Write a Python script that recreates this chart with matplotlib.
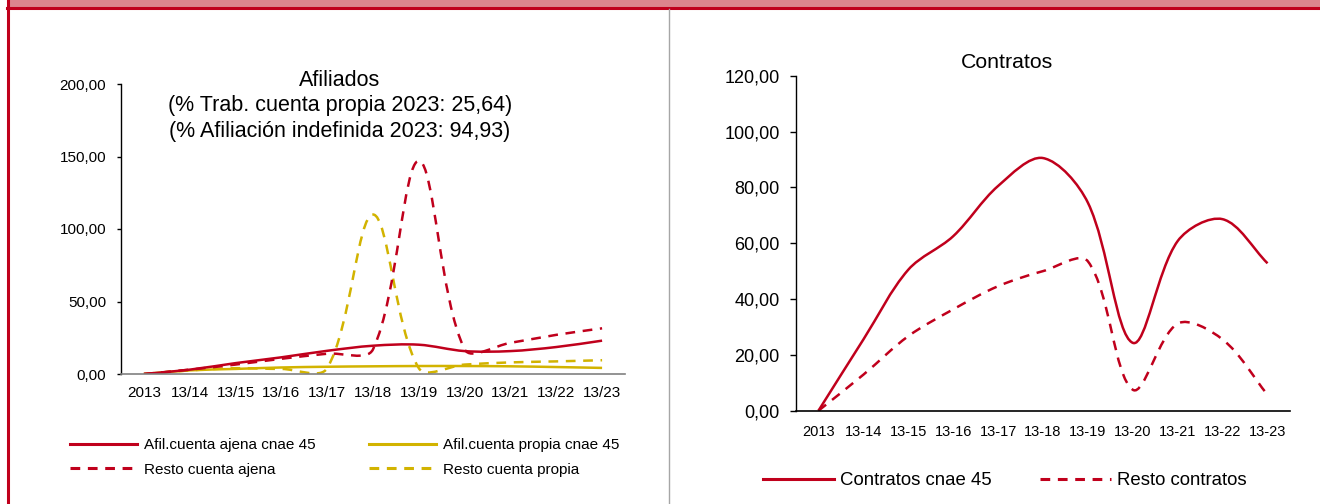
import matplotlib
matplotlib.use("Agg")
import matplotlib.pyplot as plt
import numpy as np
from matplotlib import font_manager
from matplotlib.lines import Line2D
from matplotlib.patches import PathPatch, Rectangle
from matplotlib.path import Path
from matplotlib.ticker import FixedLocator, FuncFormatter


# --- datos ------------------------------------------------------------
afil_cats = ["2013", "13/14", "13/15", "13/16", "13/17", "13/18",
             "13/19", "13/20", "13/21", "13/22", "13/23"]
afil_ajena_45 = [0, 3, 7.5, 11.5, 16, 19.5, 20.2, 15.8, 15.8, 18.6, 23]
afil_propia_45 = [0, 2.5, 3.5, 4.5, 5, 5.3, 5.5, 5.5, 5.3, 4.8, 4.2]
resto_ajena = [0, 3, 6.5, 10.5, 14, 17, 147, 17, 21.5, 27, 31.5]
resto_propia = [0, 2.5, 4, 3.5, 4, 110, 4, 6.5, 8, 8.7, 9.5]

contr_cats = ["2013", "13-14", "13-15", "13-16", "13-17", "13-18",
              "13-19", "13-20", "13-21", "13-22", "13-23"]
contratos_45 = [0, 25.5, 50.5, 62.5, 80.5, 90.5, 74.5, 24.3, 60.8, 68.6, 52.8]
resto_contratos = [0, 12.9, 26.7, 36.3, 44.6, 50, 53.5, 7.5, 31.2, 25.5, 5.7]

afil_title = ("Afiliados\n(% Trab. cuenta propia 2023: 25,64)\n"
              "(% Afiliación indefinida 2023: 94,93)")
contr_title = "Contratos"

RED = "#C0001C"
YELLOW = "#D2B300"
BAND = "#DC858D"

plt.rcParams["font.family"] = ["Liberation Sans", "DejaVu Sans"]
plt.rcParams["lines.scale_dashes"] = False

_names = {f.name for f in font_manager.fontManager.ttflist}
if "Liberation Sans Narrow" in _names:
    NARROW, NARROW_SIZE = ["Liberation Sans Narrow", "Liberation Sans"], 12
else:
    NARROW, NARROW_SIZE = ["Liberation Sans", "DejaVu Sans"], 10.5

DASH = (0, (7, 5.5))
LW = 1.8
W, H = 1320, 504


def comma_fmt(v, _pos):
    return f"{v:.2f}".replace(".", ",")


def smooth_path(ax, ys):
    """Línea suavizada tipo Excel: Bezier cúbicas con brazos ponderados
    por la longitud de los tramos (medida en píxeles)."""
    x0, x1 = ax.get_xlim()
    y0, y1 = ax.get_ylim()
    sx = ax.bbox.width / (x1 - x0)
    sy = ax.bbox.height / (y1 - y0)
    pts = np.column_stack([np.arange(len(ys)) * sx, np.asarray(ys, float) * sy])
    n = len(pts)
    verts = [pts[0]]
    codes = [Path.MOVETO]
    for i in range(n - 1):
        p0, p1 = pts[max(i - 1, 0)], pts[i]
        p2, p3 = pts[i + 1], pts[min(i + 2, n - 1)]
        d01 = np.linalg.norm(p1 - p0)
        d12 = np.linalg.norm(p2 - p1)
        d23 = np.linalg.norm(p3 - p2)
        c1 = p1 + (p2 - p0) * (d12 / (d01 + d12)) / 3
        c2 = p2 - (p3 - p1) * (d12 / (d12 + d23)) / 3
        verts += [c1, c2, p2]
        codes += [Path.CURVE4] * 3
    verts = np.array(verts) / [sx, sy]
    return Path(verts, codes)


def draw_series(ax, ys, color, ls):
    ax.add_patch(PathPatch(smooth_path(ax, ys), fill=False, edgecolor=color,
                           linewidth=LW, linestyle=ls, capstyle="butt",
                           joinstyle="round"))


def setup_axes(ax, cats, ymax, ystep, ysize, tick_len, xfamily, xsize, xpad,
               bottom_color):
    ax.set_xlim(-0.5, len(cats) - 0.5)
    ax.set_ylim(0, ymax)
    ax.xaxis.set_major_locator(FixedLocator(range(len(cats))))
    ax.set_xticklabels(cats, family=xfamily, fontsize=xsize)
    ax.yaxis.set_major_locator(FixedLocator(np.arange(0, ymax + 0.1, ystep)))
    ax.yaxis.set_major_formatter(FuncFormatter(comma_fmt))
    ax.tick_params(axis="x", length=0, pad=xpad)
    ax.tick_params(axis="y", length=tick_len, width=1, direction="out",
                   pad=7.7, labelsize=ysize)
    for s in ("top", "right"):
        ax.spines[s].set_visible(False)
    ax.spines["left"].set_color("black")
    ax.spines["bottom"].set_color(bottom_color)
    ax.spines["left"].set_linewidth(1)
    ax.spines["bottom"].set_linewidth(1.2)
    ax.patch.set_alpha(0)


fig = plt.figure(figsize=(W / 100, H / 100), dpi=100)

# marco de la ficha
fig.patches.append(Rectangle((9 / W, 1 - 7 / H), 1, 7 / H, transform=fig.transFigure,
                             color=BAND, zorder=0))
fig.add_artist(Line2D([7 / W, 1], [1 - 8.3 / H] * 2, transform=fig.transFigure,
                      color=RED, linewidth=2.2))
fig.add_artist(Line2D([8 / W] * 2, [0, 1], transform=fig.transFigure,
                      color=RED, linewidth=2.2))
fig.add_artist(Line2D([668.5 / W] * 2, [0, 1 - 9 / H], transform=fig.transFigure,
                      color="#A6A6A6", linewidth=1))

# --- Afiliados ---------------------------------------------------------
ax1 = fig.add_axes([121 / W, 1 - 374 / H, 504 / W, 290 / H])
setup_axes(ax1, afil_cats, 200, 50, 11, 3, ["Liberation Sans", "DejaVu Sans"],
           11, 8.5, "#808080")
draw_series(ax1, afil_propia_45, YELLOW, "-")
draw_series(ax1, resto_propia, YELLOW, DASH)
draw_series(ax1, afil_ajena_45, RED, "-")
draw_series(ax1, resto_ajena, RED, DASH)

fig.text(340 / W, 1 - 69.5 / H, afil_title, ha="center", va="top",
         fontsize=15.5, linespacing=1.31, multialignment="center")

h_afil = [Line2D([], [], color=RED, lw=2.2),
          Line2D([], [], color=RED, lw=2.2, ls=DASH),
          Line2D([], [], color=YELLOW, lw=2.2),
          Line2D([], [], color=YELLOW, lw=2.2, ls=DASH)]
l_afil = ["Afil.cuenta ajena cnae 45", "Resto cuenta ajena",
          "Afil.cuenta propia cnae 45", "Resto cuenta propia"]
fig.legend(h_afil, l_afil, ncol=2, loc="upper left",
           bbox_to_anchor=(70 / W, 1 - 438 / H), frameon=False, fontsize=11,
           borderpad=0, borderaxespad=0, handlelength=4.4, handletextpad=0.45,
           columnspacing=3.5, labelspacing=0.7)

# --- Contratos ---------------------------------------------------------
ax2 = fig.add_axes([796 / W, 1 - 410.7 / H, 494 / W, 335 / H])
setup_axes(ax2, contr_cats, 120, 20, 13, 4, NARROW, NARROW_SIZE, 10, "black")
draw_series(ax2, resto_contratos, RED, DASH)
draw_series(ax2, contratos_45, RED, "-")

fig.text(1007 / W, 1 - 63 / H, contr_title, ha="center", va="center",
         fontsize=15.3)

h_contr = [Line2D([], [], color=RED, lw=2.2),
           Line2D([], [], color=RED, lw=2.2, ls=DASH)]
fig.legend(h_contr, ["Contratos cnae 45", "Resto contratos"], ncol=2,
           loc="upper left", bbox_to_anchor=(763 / W, 1 - 472 / H),
           frameon=False, fontsize=13.4, borderpad=0, borderaxespad=0,
           handlelength=3.8, handletextpad=0.35, columnspacing=2.6)

fig.savefig("out.png", dpi=100)
